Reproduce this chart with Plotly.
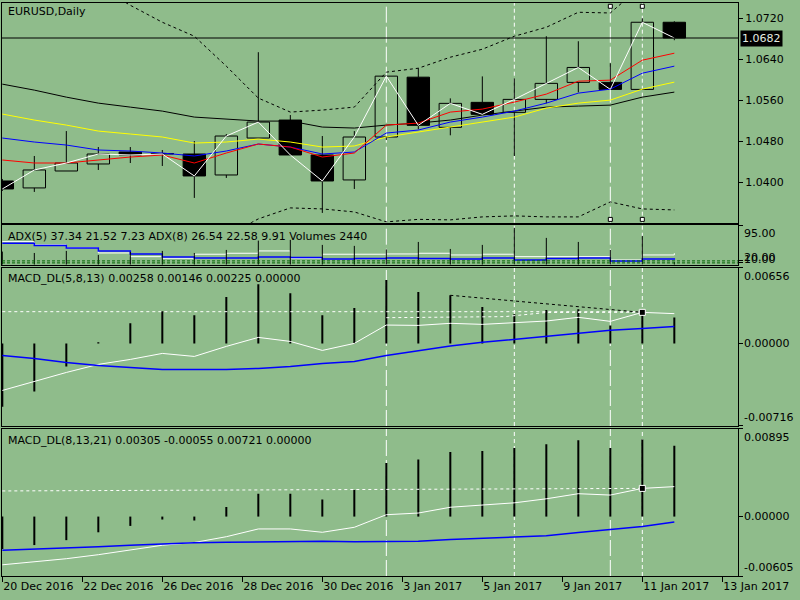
import plotly.graph_objects as go

# --- values (22 bars) ---
bars = list(range(22))

opens = [1.04027, 1.03891, 1.04222, 1.04359, 1.04593, 1.04564, 1.04554, 1.04144, 1.04866, 1.05217, 1.04535,
         1.04047, 1.04886, 1.06055, 1.05075, 1.05563, 1.05368, 1.05621, 1.05953, 1.05953, 1.05816, 1.07128]
highs = [1.04066, 1.04515, 1.05002, 1.04690, 1.04690, 1.04632, 1.04807, 1.04944, 1.06543, 1.05315, 1.04905,
         1.05002, 1.06075, 1.06231, 1.05641, 1.06070, 1.06031, 1.06855, 1.06757, 1.06327, 1.07206, 1.07147]
lows = [1.03832, 1.03813, 1.04222, 1.04242, 1.04378, 1.04320, 1.03696, 1.04086, 1.04866, 1.04535, 1.03403,
        1.03871, 1.04827, 1.05037, 1.04919, 1.05329, 1.04515, 1.05543, 1.05758, 1.05816, 1.05816, 1.06777]
closes = [1.03871, 1.04242, 1.04378, 1.04554, 1.04535, 1.04554, 1.04125, 1.04905, 1.05178, 1.04535, 1.04027,
          1.04886, 1.06075, 1.05114, 1.05543, 1.05329, 1.05621, 1.05934, 1.06245, 1.05816, 1.07128, 1.06820]

ma_red = [1.04437, 1.04378, 1.04378, 1.04437, 1.04495, 1.04534, 1.04378, 1.04573, 1.04749, 1.04690, 1.04495,
          1.04573, 1.05119, 1.05158, 1.05373, 1.05431, 1.05568, 1.05724, 1.05977, 1.05997, 1.06387, 1.06523]
ma_blue = [1.04866, 1.04788, 1.04729, 1.04632, 1.04612, 1.04573, 1.04515, 1.04612, 1.04749, 1.04690, 1.04554,
           1.04593, 1.04963, 1.05022, 1.05178, 1.05275, 1.05392, 1.05548, 1.05743, 1.05821, 1.06133, 1.06270]
ma_yellow = [1.05334, 1.05217, 1.05119, 1.05002, 1.04944, 1.04886, 1.04768, 1.04788, 1.04846, 1.04788, 1.04690,
             1.04710, 1.04886, 1.04983, 1.05080, 1.05178, 1.05275, 1.05451, 1.05548, 1.05607, 1.05821, 1.05958]
ma_black = [1.05919, 1.05802, 1.05665, 1.05548, 1.05470, 1.05392, 1.05275, 1.05236, 1.05197, 1.05197, 1.05080,
            1.05061, 1.05119, 1.05158, 1.05217, 1.05314, 1.05392, 1.05470, 1.05490, 1.05509, 1.05665, 1.05763]
band_upper = [1.08727, 1.08434, 1.08142, 1.07830, 1.07459, 1.07128, 1.06855, 1.06270, 1.05646, 1.05373, 1.05412,
              1.05470, 1.06153, 1.06230, 1.06445, 1.06601, 1.06855, 1.07030, 1.07323, 1.07309, 1.07849, 1.07947]
band_lower = [1.02194, 1.02136, 1.02136, 1.02194, 1.02331, 1.02487, 1.02682, 1.02955, 1.03286, 1.03501, 1.03481,
              1.03422, 1.03228, 1.03277, 1.03267, 1.03325, 1.03345, 1.03325, 1.03325, 1.03618, 1.03481, 1.03461]

adx_white = [55.7, 47.7, 41.2, 28.3, 19.4, 15.5, 25.2, 27.6, 33.2, 15.5, 25.2,
             25.2, 25.9, 27.6, 23.5, 25.2, 19.4, 19.4, 19.4, 11.4, 23.5, 27.6]
adx_blue = [51.9, 46.5, 40.5, 33.2, 25.9, 18.7, 16.2, 16.2, 18.7, 17.4, 13.8,
            15.0, 16.2, 15.0, 13.8, 16.2, 11.4, 15.0, 16.2, 9.0, 13.8, 15.5]
volumes = [12000, 10700, 12600, 8900, 11700, 12600, 10700, 13500, 22000, 22700, 18100,
           17200, 14000, 20800, 14400, 18100, 33700, 24500, 20800, 13500, 26300, 2440]
adx_levels = [10, 20]

macd1_hist = [-0.0055, -0.00417, -0.0020, 0.0001, 0.00174, 0.00278, 0.00243, 0.00402, 0.00512, 0.00434, 0.00243,
              0.00306, 0.00549, 0.00445, 0.00417, 0.00315, 0.00252, 0.00289, 0.00295, 0.00156, 0.00252, 0.00225]
macd1_main = [-0.00408, -0.00330, -0.00252, -0.00182, -0.00139, -0.00087, -0.00113, -0.00026, 0.00052, 0.00017,
              -0.00061, 0.0, 0.00159, 0.00156, 0.00174, 0.00165, 0.00182, 0.00194, 0.00226, 0.00191, 0.00269, 0.00258]
macd1_signal = [-0.00104, -0.00130, -0.00165, -0.00191, -0.00208, -0.00226, -0.00226, -0.00226, -0.00217, -0.00200,
                -0.00174, -0.00156, -0.00104, -0.00061, -0.00023, 0.00009, 0.00035, 0.00061, 0.00087, 0.00113,
                0.00130, 0.00146]

macd2_hist = [-0.0033, -0.0029, -0.0024, -0.0016, -0.00095, -0.0003, -0.0004, 0.00098, 0.00233, 0.00233, 0.00174,
              0.00271, 0.00546, 0.00581, 0.00657, 0.00667, 0.00698, 0.00736, 0.00778, 0.00698, 0.00784, 0.00721]
macd2_main = [-0.00491, -0.00463, -0.00429, -0.00388, -0.00343, -0.00292, -0.00264, -0.00205, -0.00126, -0.00126,
              -0.00160, -0.00109, 0.00019, 0.00036, 0.00095, 0.00116, 0.00140, 0.00181, 0.00233, 0.00219,
              0.00287, 0.00305]
macd2_signal = [-0.00343, -0.00333, -0.00318, -0.00308, -0.00292, -0.00277, -0.00267, -0.00261, -0.00256, -0.00250,
                -0.00250, -0.00256, -0.00250, -0.00250, -0.00233, -0.00222, -0.00205, -0.00195, -0.00163, -0.00129,
                -0.00101, -0.00055]

# drawn objects in the MACD windows (bar, value)
macd1_hline = ([0, 20], [0.00275, 0.00275])
macd1_trend_white = ([12, 15.7, 17, 20], [0.00223, 0.00232, 0.00268, 0.00270])
macd1_trend_black = ([14, 20], [0.00417, 0.00269])
macd2_trend_white = ([0, 20], [0.00261, 0.00287])

date_ticks = [0, 2.5, 5, 7.5, 10, 12.5, 15, 17.5, 20, 22.5]
date_labels = ['20 Dec 2016', '22 Dec 2016', '26 Dec 2016', '28 Dec 2016', '30 Dec 2016',
               '3 Jan 2017', '5 Jan 2017', '9 Jan 2017', '11 Jan 2017', '13 Jan 2017']
price_ticks = [1.0400, 1.0480, 1.0560, 1.0640, 1.0720]
price_range = [1.03212, 1.07504]
adx_range = [0, 95]
macd1_range = [-0.00716, 0.00656]
macd2_range = [-0.00605, 0.00895]
vline_bars = [12, 16, 19, 20]
vline_dash = ['16px,4px', '4px,3px', '16px,4px', '4px,3px']

bg = '#8fbc8b'
font = dict(family='DejaVu Sans', size=11, color='black')
x_range = [-0.01, 22.99]


def stems(xs, tops, bottoms):
    # vertical segments separated by None
    px, py = [], []
    for x, t, b in zip(xs, tops, bottoms):
        px += [x, x, None]
        py += [b, t, None]
    return px, py


fig = go.Figure()

# candle bodies
bodies = [abs(c - o) for o, c in zip(opens, closes)]
bases = [min(o, c) for o, c in zip(opens, closes)]
body_fill = ['black' if c < o else 'rgba(0,0,0,0)' for o, c in zip(opens, closes)]
fig.add_trace(go.Bar(x=bars, y=bodies, base=bases, width=0.7, xaxis='x', yaxis='y',
                     marker=dict(color=body_fill, line=dict(color='black', width=1))))

# wicks
wx, wy = stems(bars, highs, [max(o, c) for o, c in zip(opens, closes)])
lx, ly = stems(bars, [min(o, c) for o, c in zip(opens, closes)], lows)
fig.add_trace(go.Scatter(x=wx + lx, y=wy + ly, mode='lines', line=dict(color='black', width=1),
                         xaxis='x', yaxis='y'))

# bands and moving averages
for band in (band_upper, band_lower):
    fig.add_trace(go.Scatter(x=bars, y=band, mode='lines', line=dict(color='black', width=1, dash='3px,3px'),
                             xaxis='x', yaxis='y'))
for ma, col in ((ma_black, 'black'), (ma_yellow, '#ffff00'), (ma_blue, '#0000ff'), (ma_red, '#ff0000')):
    fig.add_trace(go.Scatter(x=bars, y=ma, mode='lines', line=dict(color=col, width=1), xaxis='x', yaxis='y'))
fig.add_trace(go.Scatter(x=bars, y=closes, mode='lines', line=dict(color='white', width=1), xaxis='x', yaxis='y'))

# ADX window
vx, vy = stems(bars, volumes, [0] * len(volumes))
fig.add_trace(go.Scatter(x=vx, y=vy, mode='lines', line=dict(color='black', width=1), xaxis='x2', yaxis='y5'))
fig.add_trace(go.Scatter(x=bars, y=adx_white, mode='lines', line=dict(color='white', width=1, shape='hv'),
                         xaxis='x2', yaxis='y2'))
fig.add_trace(go.Scatter(x=bars, y=adx_blue, mode='lines', line=dict(color='#0000ff', width=1.5, shape='hv'),
                         xaxis='x2', yaxis='y2'))

# MACD windows
for hist, main, sig, ax, ay, extras, mark in (
        (macd1_hist, macd1_main, macd1_signal, 'x3', 'y3',
         [(macd1_hline, 'white'), (macd1_trend_white, 'white'), (macd1_trend_black, 'black')],
         macd1_trend_black),
        (macd2_hist, macd2_main, macd2_signal, 'x4', 'y4', [(macd2_trend_white, 'white')], macd2_trend_white)):
    hx, hy = stems(bars, hist, [0] * len(hist))
    fig.add_trace(go.Scatter(x=hx, y=hy, mode='lines', line=dict(color='black', width=2), xaxis=ax, yaxis=ay))
    for (tx, ty), col in extras:
        fig.add_trace(go.Scatter(x=tx, y=ty, mode='lines', line=dict(color=col, width=1, dash='3px,3px'),
                                 xaxis=ax, yaxis=ay))
    fig.add_trace(go.Scatter(x=bars, y=main, mode='lines', line=dict(color='white', width=1), xaxis=ax, yaxis=ay))
    fig.add_trace(go.Scatter(x=bars, y=sig, mode='lines', line=dict(color='#0000ff', width=1.5), xaxis=ax, yaxis=ay))
    fig.add_trace(go.Scatter(x=[mark[0][-1]], y=[mark[1][-1]], mode='markers',
                             marker=dict(symbol='square', size=6, color='black', line=dict(color='white', width=1)),
                             xaxis=ax, yaxis=ay))

frame = dict(showline=True, mirror=True, linecolor='black', linewidth=1, showgrid=False, zeroline=False)
xbase = dict(range=x_range, showticklabels=False, ticks='', **frame)
domains = {'main': [0.6166, 1.0], 'adx': [0.5433, 0.6120], 'm1': [0.2618, 0.5380], 'm2': [0.0, 0.2571]}

fig.update_layout(
    width=800, height=600,
    margin=dict(l=2, r=62, t=3, b=24),
    paper_bgcolor=bg, plot_bgcolor=bg,
    showlegend=False, font=font, barmode='overlay', hovermode=False,
    xaxis=dict(anchor='y', **xbase),
    xaxis2=dict(anchor='y2', matches='x', **xbase),
    xaxis3=dict(anchor='y3', matches='x', **xbase),
    xaxis4=dict(anchor='y4', matches='x', range=x_range, tickvals=date_ticks, ticktext=date_labels,
                ticks='outside', ticklen=5, tickcolor='black', ticklabelposition='outside right', **frame),
    yaxis=dict(domain=domains['main'], anchor='x', side='right', range=price_range, tickvals=price_ticks,
               tickformat='.4f', ticks='outside', ticklen=4, tickcolor='black', **frame),
    yaxis2=dict(domain=domains['adx'], anchor='x2', side='right', range=adx_range, tickvals=[95],
                showticklabels=False, ticks='outside', ticklen=4, tickcolor='black', **frame),
    yaxis5=dict(overlaying='y2', anchor='x2', range=[0, 36000], visible=False),
    yaxis6=dict(overlaying='y2', anchor='x2', side='right', range=[1, 198], tickvals=adx_levels,
                showticklabels=False, ticks='outside', ticklen=4, tickcolor='black', showgrid=False,
                zeroline=False, showline=False),
    yaxis3=dict(domain=domains['m1'], anchor='x3', side='right', range=macd1_range,
                tickvals=[macd1_range[0], 0, macd1_range[1]], showticklabels=False, ticks='outside', ticklen=4,
                tickcolor='black', **frame),
    yaxis4=dict(domain=domains['m2'], anchor='x4', side='right', range=macd2_range,
                tickvals=[macd2_range[0], 0, macd2_range[1]], showticklabels=False, ticks='outside', ticklen=4,
                tickcolor='black', **frame),
)

# ADX levels
for lv in adx_levels:
    fig.add_shape(type='line', xref='x2 domain', yref='y6', x0=0, x1=1, y0=lv, y1=lv,
                  line=dict(color='#006400', width=1, dash='3px,2px'))

# current price line and label
fig.add_shape(type='line', xref='x domain', yref='y', x0=0, x1=1, y0=closes[-1], y1=closes[-1],
              line=dict(color='black', width=1))
fig.add_annotation(x=1, xref='paper', y=closes[-1], yref='y', xanchor='left', xshift=2,
                   text=f'{closes[-1]:.4f}', showarrow=False, bgcolor='black', borderpad=1,
                   font=dict(family='DejaVu Sans', size=11, color='#e4ece0'))

# vertical lines through every window
for b, d in zip(vline_bars, vline_dash):
    for yr in ('y domain', 'y2 domain', 'y3 domain', 'y4 domain'):
        fig.add_shape(type='line', xref='x', yref=yr, x0=b, x1=b, y0=0, y1=1, layer='below',
                      line=dict(color='white', width=1, dash=d))
for b in vline_bars[2:]:
    for yy in (0.015, 0.985):
        fig.add_shape(type='rect', xref='x', yref='y domain', xsizemode='pixel', ysizemode='pixel',
                      xanchor=b, yanchor=yy, x0=-2, x1=2, y0=-2, y1=2,
                      fillcolor='white', line=dict(color='black', width=1))

# window captions
captions = [
    ('EURUSD,Daily', 0.9848),
    ('ADX(5) 37.34 21.52 7.23 ADX(8) 26.54 22.58 9.91 Volumes 2440', 0.5922),
    ('MACD_DL(5,8,13) 0.00258 0.00146 0.00225 0.00000', 0.5195),
    ('MACD_DL(8,13,21) 0.00305 -0.00055 0.00721 0.00000', 0.2373),
]
for txt, yp in captions:
    fig.add_annotation(x=0.005, y=yp, xref='paper', yref='paper', xanchor='left', yanchor='middle',
                       text=txt, showarrow=False, font=font)

# right-scale labels of the indicator windows
scale_labels = [
    ('y2', adx_range[1], '95.00', 'top', 0),
    ('y6', adx_levels[0], '10.00', 'middle', 3),
    ('y6', adx_levels[1], '20.00', 'middle', 3),
    ('y3', macd1_range[1], f'{macd1_range[1]:.5f}', 'top', 0),
    ('y3', 0, '0.00000', 'middle', 0),
    ('y3', macd1_range[0], f'{macd1_range[0]:.5f}', 'bottom', 0),
    ('y4', macd2_range[1], f'{macd2_range[1]:.5f}', 'top', 0),
    ('y4', 0, '0.00000', 'middle', 0),
    ('y4', macd2_range[0], f'{macd2_range[0]:.5f}', 'bottom', 0),
]
for yr, val, txt, anchor, shift in scale_labels:
    fig.add_annotation(x=1, xref='paper', y=val, yref=yr, xanchor='left', yanchor=anchor, xshift=4,
                       yshift=shift, text=txt, showarrow=False, font=font)

# the page body has a default 8px margin; drop it so the 800x600 figure fills the window
fig.write_html('out.html', config={'displayModeBar': False},
               post_script="document.body.style.margin='0px';")
